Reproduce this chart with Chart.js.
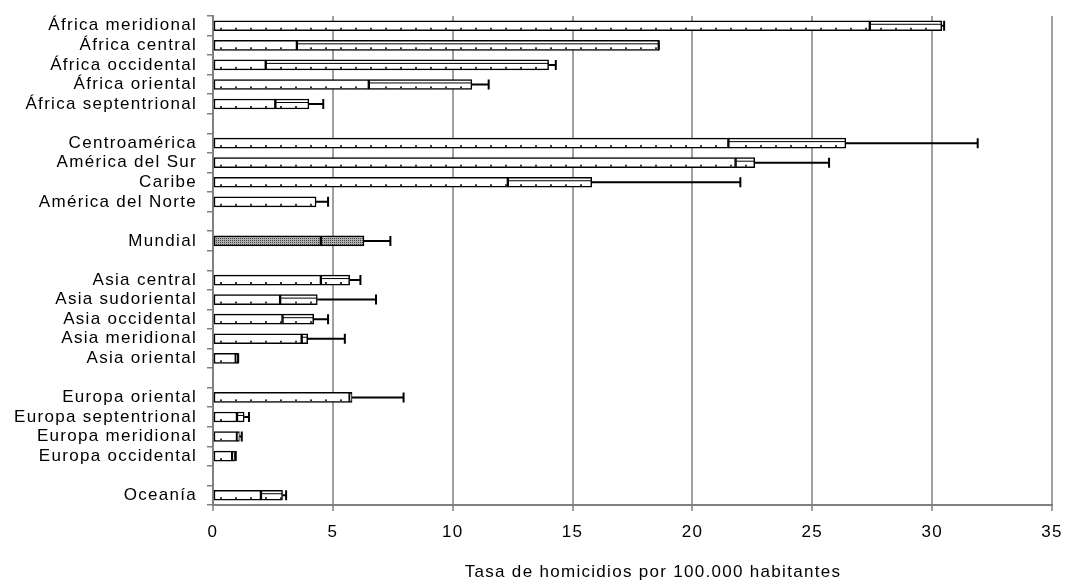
<!DOCTYPE html>
<html>
<head>
<meta charset="utf-8">
<script src="https://cdn.jsdelivr.net/npm/chart.js@4"></script>
<style>
  body { margin: 0; background: #fff; }
</style>
</head>
<body>
<canvas id="grafico" width="1071" height="581"></canvas>
<script>
const regiones = ['África meridional', 'África central', 'África occidental', 'África oriental', 'África septentrional', '',
  'Centroamérica', 'América del Sur', 'Caribe', 'América del Norte', '',
  'Mundial', '',
  'Asia central', 'Asia sudoriental', 'Asia occidental', 'Asia meridional', 'Asia oriental', '',
  'Europa oriental', 'Europa septentrional', 'Europa meridional', 'Europa occidental', '',
  'Oceanía']
const tasaMin = [27.4, 3.5, 2.2, 6.5, 2.6, null, 21.5, 21.8, 12.3, 4.3, null, 4.5, null, 4.5, 2.8, 2.9, 3.7, 0.95, null, 5.7, 1.0, 1.0, 0.8, null, 2.0]
const tasaMax = [30.4, 18.6, 14.0, 10.8, 4.0, null, 26.4, 22.6, 15.8, 4.3, null, 6.3, null, 5.7, 4.35, 4.2, 3.95, 1.05, null, 5.8, 1.3, 1.1, 0.9, null, 2.9]
const tasaError = [30.5, 18.6, 14.3, 11.5, 4.6, null, 31.9, 25.7, 22.0, 4.8, null, 7.4, null, 6.15, 6.8, 4.8, 5.5, 1.05, null, 7.95, 1.5, 1.2, 0.95, null, 3.05]
const ticksX = [0, 5, 10, 15, 20, 25, 30, 35]
const tituloX = 'Tasa de homicidios por 100.000 habitantes'

const fuente = "'Liberation Sans', Arial, sans-serif"
const indiceMundial = regiones.indexOf('Mundial')

// trama gris para "Mundial"
function tramaGris() {
  const c = document.createElement('canvas')
  c.width = 4; c.height = 4
  const g = c.getContext('2d')
  g.fillStyle = '#b0b0b0'
  g.fillRect(0, 0, 4, 4)
  g.fillStyle = '#404040'
  g.fillRect(0, 0, 1, 1); g.fillRect(2, 2, 1, 1); g.fillRect(2, 0, 1, 1); g.fillRect(0, 2, 1, 1)
  return g.createPattern(c, 'repeat')
}
const gris = tramaGris()
const relleno = regiones.map((r, i) => i === indiceMundial ? gris : '#ffffff')

const rango = tasaMax.map((v, i) => v === null ? null : Math.max(0, +(v - tasaMin[i]).toFixed(2)))

// el texto de Excel va algo espaciado
const espaciado = {
  id: 'espaciado',
  beforeUpdate(chart) { chart.ctx.letterSpacing = '1.3px' },
  beforeDraw(chart) { chart.ctx.letterSpacing = '1.3px' }
}

// puntos dentro de las barras, barras de error y título del eje
const decoracion = {
  id: 'decoracion',
  afterDatasetsDraw(chart) {
    const ctx = chart.ctx
    const x = chart.scales.x
    const y = chart.scales.y
    ctx.save()
    chart.data.datasets.forEach((ds, d) => {
      chart.getDatasetMeta(d).data.forEach((bar, i) => {
        if (ds.data[i] === null || i === indiceMundial) return
        const x0 = Math.min(bar.base, bar.x), x1 = Math.max(bar.base, bar.x)
        const yb = bar.y + bar.height / 2 - 3
        ctx.fillStyle = '#333'
        for (let px = 220; px < x1 - 2; px += 15) {
          if (px > x0 + 2) ctx.fillRect(px, yb, 2, 2)
        }
        if (d === 1 && x1 - x0 > 3) {
          ctx.strokeStyle = '#000'
          ctx.lineWidth = 1
          ctx.beginPath()
          ctx.moveTo(x0, bar.y - bar.height / 2 + 3.5)
          ctx.lineTo(x1, bar.y - bar.height / 2 + 3.5)
          ctx.stroke()
        }
      })
    })
    ctx.strokeStyle = '#000'
    ctx.lineWidth = 2
    tasaError.forEach((e, i) => {
      if (e === null) return
      const yc = y.getPixelForValue(i)
      const xa = x.getPixelForValue(tasaMax[i])
      const xb = x.getPixelForValue(e)
      ctx.beginPath()
      ctx.moveTo(xa, yc); ctx.lineTo(xb, yc)
      ctx.moveTo(xb, yc - 5); ctx.lineTo(xb, yc + 5)
      ctx.stroke()
    })
    ctx.restore()
  },
  afterDraw(chart) {
    const ctx = chart.ctx
    ctx.save()
    ctx.font = '17px ' + fuente
    ctx.fillStyle = '#000'
    ctx.textAlign = 'center'
    ctx.textBaseline = 'alphabetic'
    ctx.fillText(tituloX, 653, 577)
    ctx.restore()
  }
}

const grafico = new Chart(document.querySelector('#grafico'), {
  type: 'bar',
  data: {
    labels: regiones,
    datasets: [{
      label: 'mínimo',
      data: tasaMin,
      backgroundColor: relleno,
      borderColor: '#000',
      borderWidth: 1.5,
      borderSkipped: false,
      barThickness: 10
    }, {
      label: 'máximo',
      data: rango,
      backgroundColor: relleno,
      borderColor: '#000',
      borderWidth: 1.5,
      borderSkipped: false,
      barThickness: 10
    }]
  },
  options: {
    indexAxis: 'y',
    responsive: false,
    animation: false,
    devicePixelRatio: 1,
    layout: { padding: { top: 16, right: 19, left: 0, bottom: 0 } },
    plugins: { legend: { display: false }, tooltip: { enabled: false } },
    scales: {
      x: {
        stacked: true,
        min: 0,
        max: 35,
        afterBuildTicks: s => { s.ticks = ticksX.map(v => ({ value: v })) },
        afterFit: s => { s.height = 76; s.paddingLeft = 0; s.paddingRight = 0 },
        ticks: { color: '#000', font: { family: fuente, size: 17 }, padding: 11 },
        grid: { color: '#a0a0a0', lineWidth: 2, tickLength: 6 },
        border: { color: '#808080', width: 2 }
      },
      y: {
        stacked: true,
        afterFit: s => { s.width = 213; s.paddingTop = 0; s.paddingBottom = 0 },
        ticks: { color: '#000', autoSkip: false, font: { family: fuente, size: 17 }, padding: 10 },
        grid: { drawOnChartArea: false, offset: true, tickLength: 6, color: '#808080', lineWidth: 1.5 },
        border: { color: '#808080', width: 2 }
      }
    }
  },
  plugins: [espaciado, decoracion]
})
</script>
</body>
</html>
